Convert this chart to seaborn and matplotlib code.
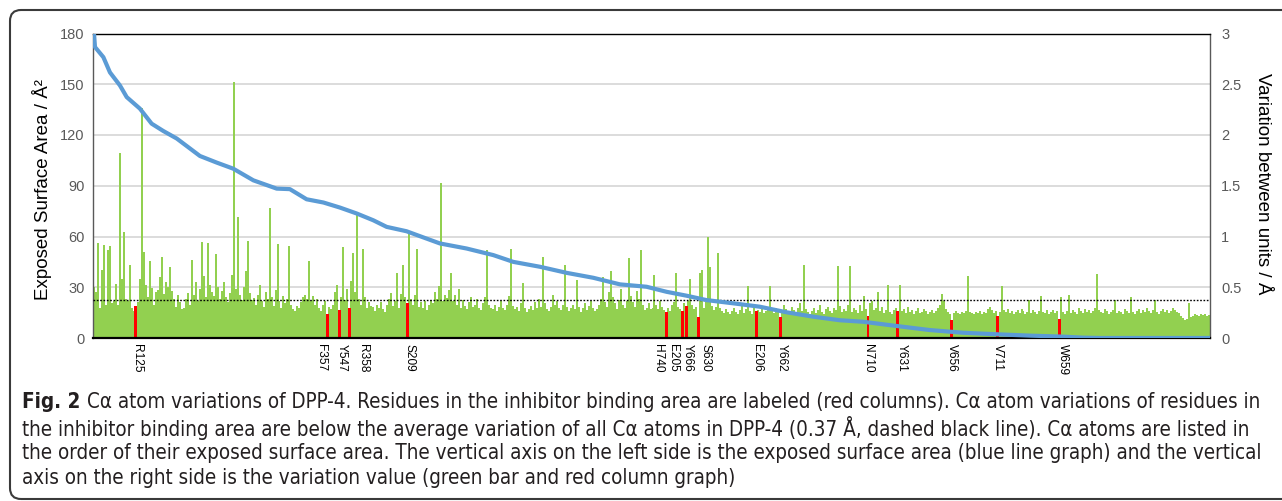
import numpy as np
import pandas as pd
import matplotlib
matplotlib.use("Agg")
import matplotlib.pyplot as plt
import seaborn as sns
from matplotlib.patches import FancyBboxPatch
from matplotlib.transforms import IdentityTransform

# ---------------- data ----------------
# C-alpha variation between units (Angstrom), residues ordered by exposed surface area
variation = [
    0.50, 0.45, 0.94, 0.30, 0.67, 0.92, 0.33, 0.87, 0.91, 0.34, 0.36, 0.53, 0.33, 1.82, 0.58, 1.04, 0.38, 0.36, 0.72, 0.30,
    0.27, 0.32, 0.35, 0.58, 2.27, 0.85, 0.52, 0.40, 0.76, 0.49, 0.33, 0.45, 0.47, 0.60, 0.80, 0.43, 0.55, 0.50, 0.70, 0.46,
    0.38, 0.31, 0.42, 0.35, 0.29, 0.30, 0.38, 0.44, 0.33, 0.77, 0.42, 0.55, 0.36, 0.48, 0.95, 0.61, 0.40, 0.94, 0.52, 0.45,
    0.41, 0.83, 0.50, 0.38, 0.46, 0.55, 0.40, 0.35, 0.44, 0.62, 2.52, 0.48, 1.19, 0.42, 0.37, 0.50, 0.66, 0.96, 0.44, 0.37,
    0.39, 0.33, 0.42, 0.52, 0.36, 0.31, 0.45, 0.38, 1.28, 0.40, 0.32, 0.47, 0.93, 0.36, 0.30, 0.41, 0.34, 0.38, 0.91, 0.33,
    0.29, 0.27, 0.32, 0.30, 0.35, 0.40, 0.42, 0.38, 0.76, 0.36, 0.41, 0.33, 0.38, 0.30, 0.27, 0.33, 0.36, 0.236, 0.31, 0.29,
    0.33, 0.45, 0.52, 0.275, 0.40, 0.90, 0.37, 0.48, 0.30, 0.56, 0.84, 0.45, 1.23, 0.38, 0.33, 0.88, 0.40, 0.30, 0.35, 0.32,
    0.31, 0.27, 0.33, 0.30, 0.35, 0.29, 0.26, 0.33, 0.38, 0.44, 0.32, 0.36, 0.64, 0.30, 0.43, 0.72, 0.40, 0.34, 1.03, 0.38,
    0.33, 0.42, 0.88, 0.31, 0.35, 0.30, 0.36, 0.28, 0.33, 0.37, 0.34, 0.45, 0.38, 0.51, 1.53, 0.36, 0.42, 0.39, 0.47, 0.64,
    0.36, 0.42, 0.33, 0.48, 0.30, 0.37, 0.32, 0.29, 0.35, 0.40, 0.31, 0.33, 0.38, 0.30, 0.28, 0.34, 0.40, 0.87, 0.33, 0.30,
    0.29, 0.33, 0.27, 0.31, 0.36, 0.30, 0.28, 0.33, 0.41, 0.88, 0.32, 0.29, 0.31, 0.27, 0.34, 0.54, 0.30, 0.26, 0.29, 0.32,
    0.28, 0.35, 0.30, 0.38, 0.31, 0.80, 0.34, 0.29, 0.27, 0.31, 0.42, 0.33, 0.36, 0.30, 0.28, 0.33, 0.72, 0.31, 0.27, 0.30,
    0.33, 0.29, 0.57, 0.31, 0.26, 0.30, 0.34, 0.28, 0.32, 0.36, 0.30, 0.27, 0.29, 0.33, 0.38, 0.60, 0.35, 0.31, 0.45, 0.66,
    0.40, 0.34, 0.29, 0.37, 0.48, 0.33, 0.30, 0.36, 0.79, 0.41, 0.35, 0.31, 0.46, 0.38, 0.87, 0.33, 0.28, 0.30, 0.34, 0.29,
    0.30, 0.62, 0.33, 0.29, 0.36, 0.31, 0.28, 0.256, 0.30, 0.27, 0.33, 0.35, 0.64, 0.31, 0.29, 0.265, 0.34, 0.32, 0.36, 0.58,
    0.33, 0.29, 0.31, 0.21, 0.64, 0.67, 0.30, 0.35, 1.00, 0.70, 0.32, 0.28, 0.31, 0.84, 0.30, 0.27, 0.25, 0.29, 0.26, 0.24,
    0.27, 0.30, 0.26, 0.24, 0.28, 0.33, 0.25, 0.29, 0.51, 0.27, 0.24, 0.30, 0.265, 0.28, 0.26, 0.31, 0.25, 0.27, 0.29, 0.51,
    0.27, 0.25, 0.30, 0.28, 0.21, 0.26, 0.33, 0.29, 0.24, 0.27, 0.31, 0.28, 0.25, 0.30, 0.34, 0.27, 0.72, 0.29, 0.26, 0.24,
    0.27, 0.30, 0.25, 0.28, 0.33, 0.26, 0.24, 0.29, 0.31, 0.27, 0.25, 0.30, 0.28, 0.71, 0.32, 0.26, 0.29, 0.27, 0.33, 0.71,
    0.26, 0.30, 0.28, 0.25, 0.33, 0.27, 0.41, 0.29, 0.22, 0.34, 0.36, 0.28, 0.30, 0.45, 0.27, 0.31, 0.25, 0.28, 0.52, 0.26,
    0.24, 0.28, 0.30, 0.265, 0.52, 0.27, 0.29, 0.25, 0.31, 0.26, 0.28, 0.24, 0.27, 0.30, 0.25, 0.26, 0.29, 0.27, 0.24, 0.26,
    0.28, 0.25, 0.27, 0.30, 0.33, 0.43, 0.36, 0.29, 0.26, 0.24, 0.18, 0.25, 0.27, 0.25, 0.24, 0.26, 0.25, 0.27, 0.61, 0.26,
    0.25, 0.24, 0.26, 0.25, 0.27, 0.24, 0.26, 0.25, 0.29, 0.31, 0.28, 0.25, 0.27, 0.22, 0.26, 0.51, 0.28, 0.26, 0.29, 0.25,
    0.27, 0.24, 0.26, 0.28, 0.25, 0.29, 0.27, 0.24, 0.26, 0.37, 0.25, 0.28, 0.26, 0.24, 0.27, 0.41, 0.26, 0.25, 0.28, 0.24,
    0.26, 0.28, 0.25, 0.27, 0.19, 0.40, 0.26, 0.24, 0.27, 0.42, 0.25, 0.28, 0.26, 0.24, 0.30, 0.27, 0.25, 0.29, 0.26, 0.28,
    0.25, 0.27, 0.30, 0.63, 0.28, 0.26, 0.25, 0.29, 0.27, 0.24, 0.26, 0.28, 0.37, 0.25, 0.27, 0.26, 0.24, 0.29, 0.27, 0.25,
    0.40, 0.26, 0.24, 0.27, 0.29, 0.25, 0.28, 0.26, 0.30, 0.27, 0.25, 0.28, 0.37, 0.26, 0.24, 0.27, 0.29, 0.26, 0.28, 0.25,
    0.27, 0.30, 0.28, 0.26, 0.25, 0.22, 0.20, 0.18, 0.19, 0.34, 0.21, 0.22, 0.24, 0.23, 0.22, 0.24, 0.23, 0.24, 0.22, 0.23,
]

# residues in the inhibitor binding area (red columns): rank position of the column
binding_labels = ["R125", "F357", "Y547", "R358", "S209", "H740", "E205", "Y666",
                  "S630", "E206", "Y662", "N710", "Y631", "V656", "V711", "W659"]
binding_rank = [21, 117, 123, 128, 157, 287, 295, 297, 303, 332, 344, 388, 403, 430, 453, 484]
# where each residue name is written along the rank axis (spread to stay legible)
label_rank = [21.6, 113.9, 124.0, 135.0, 158.2, 282.9, 290.4, 297.9, 306.8, 332.2,
              344.7, 388.1, 404.8, 429.9, 453.3, 485.6]

# exposed surface area (blue line), sampled along the rank axis
esa_rank = [0, 0.5, 4.7, 8, 13, 16.4, 23, 28.9, 34.7, 41.5, 53.1, 61.5, 69.8, 79.9, 91.6, 98.2,
            106.6, 115, 123.3, 131.7, 140, 146.7, 156.7, 163.4, 173.4, 186.8, 200.2, 210.2,
            223.6, 237, 250.3, 263.7, 277, 287.1, 297.1, 307.1, 320.5, 333.8, 347.2, 360.6,
            373.9, 385.6, 402.4, 419, 435.8, 452.5, 469.2, 485.9, 495.9, 504.3, 559.5]
esa_value = [180, 172, 166, 157, 149.3, 142.4, 135.6, 126.7, 122.4, 117.9, 107.6, 103.7, 100.1,
             93.2, 88.3, 88, 82, 80.1, 77.1, 73.6, 69.6, 65.7, 63.1, 60.2, 55.9, 52.9, 49, 45,
             42.1, 38.5, 35.6, 31.7, 30.3, 27.3, 25, 22.4, 20.5, 18.5, 15.2, 12.6, 10.5, 9.6,
             7.1, 4.7, 3.1, 2.2, 1.4, 0.8, 0.2, 0, 0]

mean_variation = 0.37
esa_ticks = [0, 30, 60, 90, 120, 150, 180]
var_ticks = [0, 0.5, 1, 1.5, 2, 2.5, 3]
var_tick_labels = ["0", "0.5", "1", "1.5", "2", "2.5", "3"]

caption_lines = [
    "Cα atom variations of DPP-4. Residues in the inhibitor binding area are labeled (red columns). Cα atom variations of residues in",
    "the inhibitor binding area are below the average variation of all Cα atoms in DPP-4 (0.37 Å, dashed black line). Cα atoms are listed in",
    "the order of their exposed surface area. The vertical axis on the left side is the exposed surface area (blue line graph) and the vertical",
    "axis on the right side is the variation value (green bar and red column graph)",
]

# ---------------- figure ----------------
sns.set_theme(style="white")
plt.rcParams["font.family"] = ["Liberation Sans", "DejaVu Sans"]

W, H = 1282, 501
fig = plt.figure(figsize=(W / 100, H / 100), dpi=100)

# plot area in pixels: x 93..1210, y 33.5..338
L, R, T, B = 93, 1210, 33.5, 338
ax = fig.add_axes([L / W, 1 - B / H, (R - L) / W, (B - T) / H])

df = pd.DataFrame({"rank": np.arange(len(variation)), "variation": variation})
df_bind = df[df["rank"].isin(binding_rank)]

ax.set_axisbelow(True)
ax.yaxis.grid(True, color="#d9d9d9", linewidth=1.3)
ax.xaxis.grid(False)

sns.barplot(data=df, x="rank", y="variation", color="#92D050",
            native_scale=True, width=1.0, saturation=1,
            errorbar=None, linewidth=0, ax=ax, zorder=2)
sns.barplot(data=df_bind, x="rank", y="variation", color="#FF0000",
            native_scale=True, width=0.7, saturation=1,
            errorbar=None, linewidth=0, ax=ax, zorder=2.5)

ax.axhline(mean_variation, color="black", linestyle=(0, (1.2, 1.2)), linewidth=1.0, zorder=3)

ax.set_xlim(-0.5, len(variation) - 0.5)
ax.set_ylim(0, 3)
ax.set_xlabel("")
ax.set_ylabel("")

for side in ["top", "bottom"]:
    ax.spines[side].set_color("black")
ax.spines["top"].set_linewidth(1.0)
ax.spines["bottom"].set_linewidth(1.6)
for side in ["left", "right"]:
    ax.spines[side].set_color("#595959")
    ax.spines[side].set_linewidth(1.0)

# exposed surface area line on the left axis
ax2 = ax.twinx()
sns.lineplot(x=esa_rank, y=esa_value, ax=ax2, color="#5B9BD5", linewidth=3.0)
ax2.set_ylim(0, 180)
ax2.set_xlim(-0.5, len(variation) - 0.5)
ax2.set_yticks(esa_ticks, [str(t) for t in esa_ticks])
ax2.yaxis.tick_left()
ax2.tick_params(axis="y", left=False, right=False, labelleft=True, labelright=False,
                length=0, pad=6, labelsize=10.5, labelcolor="#595959")
ax2.set_xlabel("")
ax2.set_ylabel("")
for s in ax2.spines.values():
    s.set_visible(False)

# variation axis on the right (set after twinx, which moves it to the left)
ax.set_yticks(var_ticks, var_tick_labels)
ax.yaxis.tick_right()
ax.tick_params(axis="y", left=False, right=False, labelleft=False, labelright=True,
               length=0, pad=8, labelsize=10.5, labelcolor="#595959")
ax.set_xticks(label_rank, binding_labels)
ax.tick_params(axis="x", length=0, pad=4, labelsize=8.6, labelcolor="black")
for lab in ax.get_xticklabels():
    lab.set_rotation(270)
    lab.set_ha("center")
    lab.set_va("top")

# axis titles
fig.text(42 / W, 1 - 189 / H, "Exposed Surface Area / Å²", rotation=90,
         ha="center", va="center", fontsize=13.5, color="black")
fig.text(1263 / W, 1 - 184 / H, "Variation between units / Å", rotation=270,
         ha="center", va="center", fontsize=13.5, color="black")

# rounded frame (extends beyond the right edge)
frame = FancyBboxPatch((10, 2), 1310, 489, boxstyle="round,pad=0,rounding_size=11",
                       transform=IdentityTransform(), fill=False,
                       edgecolor="#3a3a3a", linewidth=1.5)
fig.add_artist(frame)

# caption
cap = dict(family=["DejaVu Sans"], fontstretch="condensed", color="#231F20",
           ha="left", va="center")
y_lines = [402, 428, 453, 478]
fs0 = 12
x0 = 22
t_bold = fig.text(x0 / W, 1 - y_lines[0] / H, "Fig. 2", fontsize=fs0, fontweight="bold", **cap)
texts = []
for i, line in enumerate(caption_lines):
    texts.append(fig.text(x0 / W, 1 - y_lines[i] / H, line, fontsize=fs0, **cap))

fig.canvas.draw()
r = fig.canvas.get_renderer()
wb = t_bold.get_window_extent(r).width
w1 = texts[0].get_window_extent(r).width
gap = 0.3 * fs0 * 100 / 72
scale = (1266 - x0) / (wb + gap + w1)
fs = fs0 * scale
t_bold.set_fontsize(fs)
for t in texts:
    t.set_fontsize(fs)
fig.canvas.draw()
wb = t_bold.get_window_extent(r).width
gap = 0.3 * fs * 100 / 72
texts[0].set_x((x0 + wb + gap) / W)

fig.savefig("out.png", dpi=100)
